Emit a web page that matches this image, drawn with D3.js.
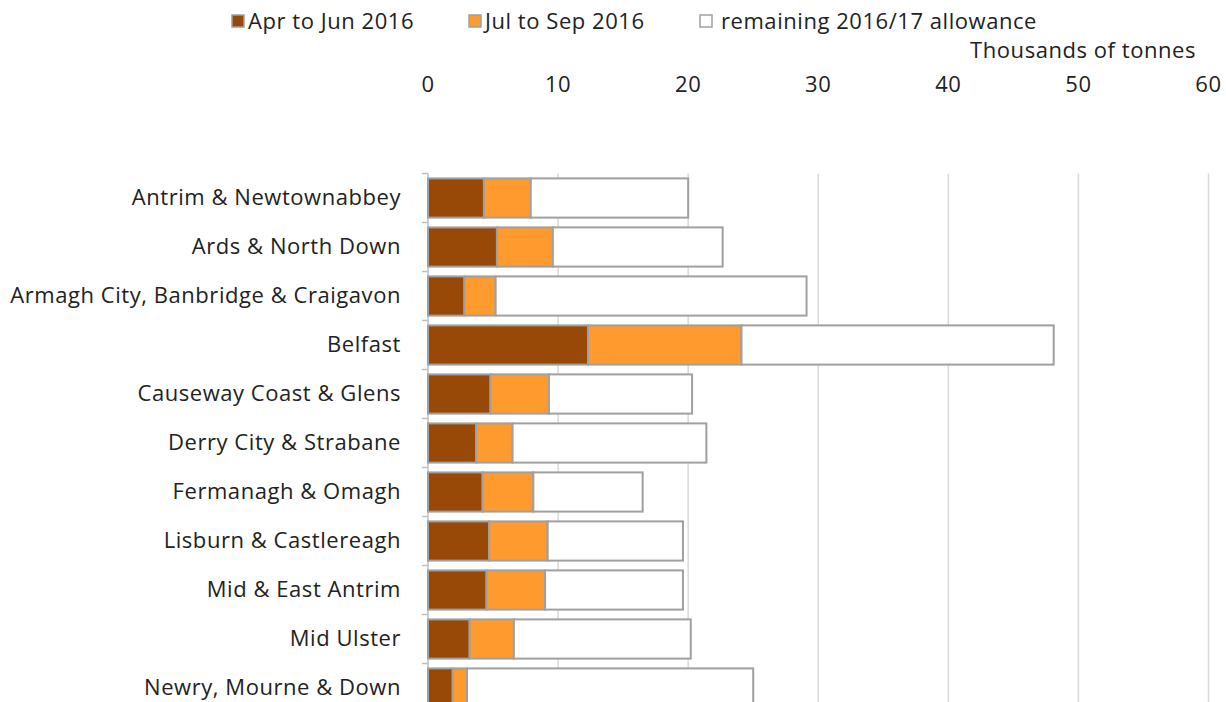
<!DOCTYPE html>
<html>
  <head>
    <meta charset="utf-8">
    <script src="https://cdn.jsdelivr.net/npm/d3@7"></script>
    <style>
        body { margin:0; background:#fff; overflow:hidden; }
        svg { font-family: "Open Sans", sans-serif; }
        text { letter-spacing: 0.55px; }
    </style>
  </head>
  <body>
    <script>
      // council areas, top to bottom
      var councils = ["Antrim & Newtownabbey", "Ards & North Down", "Armagh City, Banbridge & Craigavon",
                      "Belfast", "Causeway Coast & Glens", "Derry City & Strabane", "Fermanagh & Omagh",
                      "Lisburn & Castlereagh", "Mid & East Antrim", "Mid Ulster", "Newry, Mourne & Down"];
      // thousands of tonnes
      var aprJun = [4.3, 5.3, 2.8, 12.3, 4.8, 3.7, 4.2, 4.7, 4.5, 3.2, 1.9];
      var julSep = [3.6, 4.3, 2.4, 11.8, 4.5, 2.8, 3.9, 4.5, 4.5, 3.4, 1.1];
      var allowance = [20.0, 22.65, 29.1, 48.1, 20.3, 21.4, 16.5, 19.6, 19.6, 20.2, 25.0];
      var seriesNames = ["Apr to Jun 2016", "Jul to Sep 2016", "remaining 2016/17 allowance"];
      var tickVals = [0, 10, 20, 30, 40, 50, 60];

      var colors = ["#984807", "#ff9a2e", "#ffffff"];
      var width = 1226, height = 702;
      var plotLeft = 428, plotRight = 1208.5, plotTop = 173.5, band = 49;
      var fs = 22;

      var svg = d3.select("body").append("svg")
          .attr("width", width).attr("height", height);

      var x = d3.scaleLinear().domain([0, 60]).range([plotLeft, plotRight]);
      var y = d3.scaleBand().domain(councils)
          .range([plotTop, plotTop + band * councils.length])
          .paddingInner(0.2).paddingOuter(0.1);

      // gridlines
      svg.selectAll(".grid")
        .data(tickVals.slice(1))
        .enter().append("line")
          .attr("x1", function(d) { return x(d); })
          .attr("x2", function(d) { return x(d); })
          .attr("y1", plotTop).attr("y2", height)
          .attr("stroke", "#d9d9d9").attr("stroke-width", 1.5);

      // top axis labels
      svg.selectAll(".tick")
        .data(tickVals)
        .enter().append("text")
          .attr("x", function(d) { return x(d); })
          .attr("y", 92)
          .attr("text-anchor", "middle")
          .attr("font-size", fs)
          .attr("fill", "#222")
          .text(function(d) { return d; });

      svg.append("text")
          .attr("x", 1196).attr("y", 58)
          .attr("text-anchor", "end")
          .attr("font-size", fs)
          .attr("fill", "#222")
          .text("Thousands of tonnes");

      // left axis with tick marks between categories
      svg.append("line")
          .attr("x1", plotLeft).attr("x2", plotLeft)
          .attr("y1", plotTop).attr("y2", height)
          .attr("stroke", "#bfbfbf").attr("stroke-width", 1.5);
      svg.selectAll(".ytick")
        .data(d3.range(councils.length + 1))
        .enter().append("line")
          .attr("x1", plotLeft - 6).attr("x2", plotLeft)
          .attr("y1", function(i) { return plotTop + i * band; })
          .attr("y2", function(i) { return plotTop + i * band; })
          .attr("stroke", "#bfbfbf").attr("stroke-width", 1.5);

      svg.selectAll(".ylabel")
        .data(councils)
        .enter().append("text")
          .attr("x", 401)
          .attr("y", function(d) { return y(d) + y.bandwidth() / 2 + 7; })
          .attr("text-anchor", "end")
          .attr("font-size", fs)
          .attr("fill", "#222")
          .text(function(d) { return d; });

      // stacked bars: remaining = allowance - used
      var rows = councils.map(function(c, i) {
          return {name: c, a: aprJun[i], b: julSep[i], c: allowance[i] - aprJun[i] - julSep[i]};
      });
      var stack = d3.stack().keys(["a", "b", "c"])(rows);

      svg.selectAll(".series")
        .data(stack)
        .enter().append("g")
          .attr("fill", function(d, i) { return colors[i]; })
        .selectAll("rect")
        .data(function(d) { return d; })
        .enter().append("rect")
          .attr("x", function(d) { return x(d[0]); })
          .attr("width", function(d) { return x(d[1]) - x(d[0]); })
          .attr("y", function(d) { return y(d.data.name); })
          .attr("height", y.bandwidth())
          .attr("stroke", "#a0a0a0")
          .attr("stroke-width", 2);

      // legend
      var legendX = [232, 469, 700];
      var lg = svg.selectAll(".legend")
        .data(seriesNames)
        .enter().append("g")
          .attr("transform", function(d, i) { return "translate(" + legendX[i] + ",15)"; });
      lg.append("rect")
          .attr("width", 12).attr("height", 12)
          .attr("fill", function(d, i) { return colors[i]; })
          .attr("stroke", "#a0a0a0").attr("stroke-width", 1.5);
      lg.append("text")
          .attr("x", function(d, i) { return i == 2 ? 21 : 16; }).attr("y", 14)
          .attr("font-size", fs)
          .attr("fill", "#222")
          .text(function(d) { return d; });
    </script>
  </body>
</html>
